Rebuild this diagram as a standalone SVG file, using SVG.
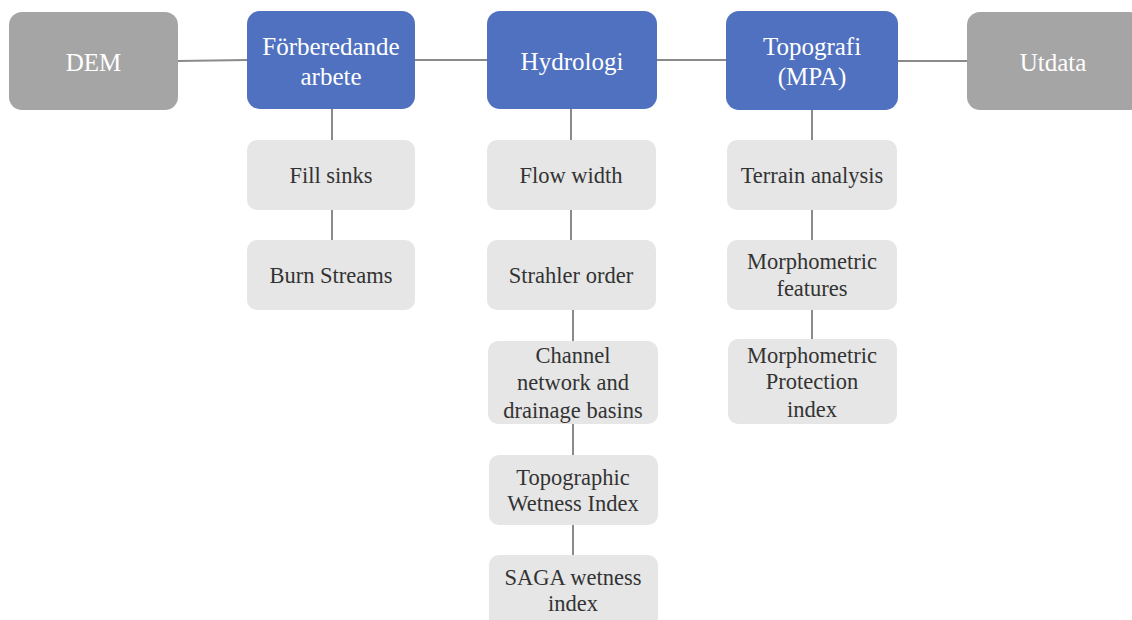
<svg xmlns="http://www.w3.org/2000/svg" width="1132" height="620" viewBox="0 0 1132 620">
<style>
text{font-family:'Liberation Serif','Times New Roman',Times,serif;text-anchor:middle}
.hd{font-size:25px;fill:#fff}
.ch{font-size:22.5px;fill:#333}
.gray{fill:#a5a5a5}
.blue{fill:#4f71bf}
.lt{fill:#e6e6e6}
.ln{stroke:#8a8a8a;stroke-width:2;fill:none}
</style>
<rect width="1132" height="620" fill="#fff"/>
<g id="connectors" class="ln">
<line x1="178" y1="61" x2="247" y2="60"/>
<line x1="415" y1="60" x2="487" y2="60"/>
<line x1="657" y1="60" x2="726" y2="60"/>
<line x1="898" y1="61" x2="967" y2="61"/>
<line x1="332" y1="109" x2="332" y2="140"/>
<line x1="332" y1="210" x2="332" y2="240"/>
<line x1="571" y1="109" x2="571" y2="140"/>
<line x1="571" y1="210" x2="571" y2="240"/>
<line x1="573" y1="310" x2="573" y2="341"/>
<line x1="573" y1="424" x2="573" y2="455"/>
<line x1="573" y1="525" x2="573" y2="555"/>
<line x1="812" y1="110" x2="812" y2="140"/>
<line x1="812" y1="210" x2="812" y2="240"/>
<line x1="812" y1="310" x2="812" y2="339"/>
</g>
<g id="dem"><rect class="gray" x="9" y="12" width="169" height="98" rx="13"/><text class="hd" x="93.5" y="71">DEM</text></g>
<g id="forberedande"><rect class="blue" x="247" y="11" width="168" height="98" rx="13"/><text class="hd" x="331" y="55">Förberedande</text><text class="hd" x="331" y="85">arbete</text></g>
<g id="hydrologi"><rect class="blue" x="487" y="11" width="170" height="98" rx="13"/><text class="hd" x="572" y="70">Hydrologi</text></g>
<g id="topografi"><rect class="blue" x="726" y="11" width="172" height="99" rx="13"/><text class="hd" x="812" y="55">Topografi</text><text class="hd" x="812" y="85">(MPA)</text></g>
<g id="utdata"><rect class="gray" x="967" y="12" width="175" height="98" rx="13"/><text class="hd" x="1053" y="71">Utdata</text></g>
<g id="fillsinks"><rect class="lt" x="247" y="140" width="168" height="70" rx="10"/><text class="ch" x="331" y="183">Fill sinks</text></g>
<g id="burnstreams"><rect class="lt" x="247" y="240" width="168" height="70" rx="10"/><text class="ch" x="331" y="283">Burn Streams</text></g>
<g id="flowwidth"><rect class="lt" x="487" y="140" width="169" height="70" rx="10"/><text class="ch" x="571" y="183">Flow width</text></g>
<g id="strahler"><rect class="lt" x="487" y="240" width="169" height="70" rx="10"/><text class="ch" x="571" y="283">Strahler order</text></g>
<g id="channel"><rect class="lt" x="488" y="341" width="170" height="83" rx="10"/><text class="ch" x="573" y="363">Channel</text><text class="ch" x="573" y="390">network and</text><text class="ch" x="573" y="418">drainage basins</text></g>
<g id="twi"><rect class="lt" x="489" y="455" width="169" height="70" rx="10"/><text class="ch" x="573" y="485">Topographic</text><text class="ch" x="573" y="511">Wetness Index</text></g>
<g id="saga"><rect class="lt" x="489" y="555" width="169" height="75" rx="10"/><text class="ch" x="573" y="585">SAGA wetness</text><text class="ch" x="573" y="611">index</text></g>
<g id="terrain"><rect class="lt" x="727" y="140" width="170" height="70" rx="10"/><text class="ch" x="812" y="183">Terrain analysis</text></g>
<g id="morphfeat"><rect class="lt" x="727" y="240" width="170" height="70" rx="10"/><text class="ch" x="812" y="269">Morphometric</text><text class="ch" x="812" y="296">features</text></g>
<g id="mpi"><rect class="lt" x="728" y="339" width="169" height="85" rx="10"/><text class="ch" x="812" y="363">Morphometric</text><text class="ch" x="812" y="389">Protection</text><text class="ch" x="812" y="417">index</text></g>
</svg>
